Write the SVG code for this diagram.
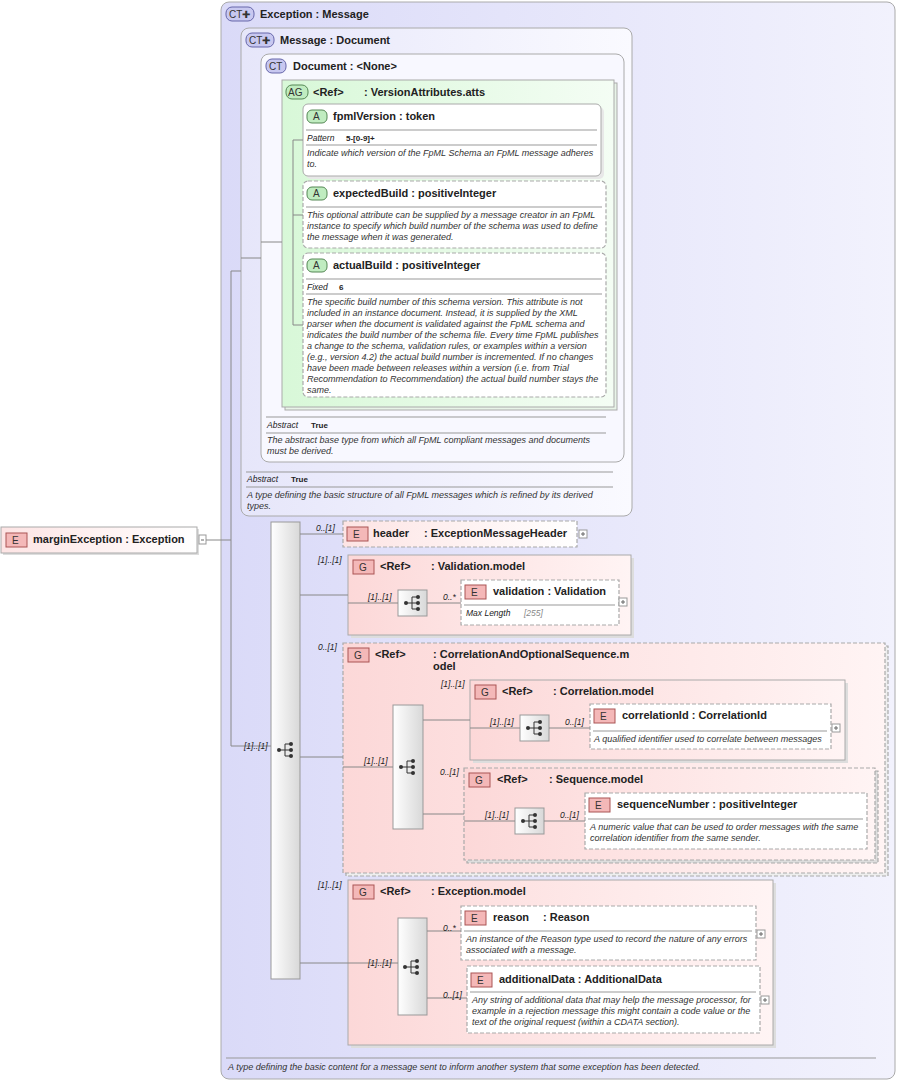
<svg xmlns="http://www.w3.org/2000/svg" width="900" height="1081" viewBox="0 0 900 1081">
<defs>
<linearGradient id="gCT" x1="0" y1="0" x2="1" y2="0"><stop offset="0" stop-color="#dadaf8"/><stop offset="1" stop-color="#f2f2fd"/></linearGradient>
<linearGradient id="gCT2" x1="0" y1="0" x2="1" y2="0"><stop offset="0" stop-color="#e6e6fa"/><stop offset="1" stop-color="#fafaff"/></linearGradient>
<linearGradient id="gAG" x1="0" y1="0" x2="1" y2="0"><stop offset="0" stop-color="#d8f8d8"/><stop offset="1" stop-color="#f4fdf4"/></linearGradient>
<linearGradient id="gG" x1="0" y1="0" x2="1" y2="0"><stop offset="0" stop-color="#fcd8d8"/><stop offset="1" stop-color="#fff4f4"/></linearGradient>
<linearGradient id="gE" x1="0" y1="0" x2="1" y2="0"><stop offset="0" stop-color="#fde4e4"/><stop offset="1" stop-color="#ffffff"/></linearGradient>
<linearGradient id="gBar" x1="0" y1="0" x2="1" y2="0"><stop offset="0" stop-color="#ffffff"/><stop offset="1" stop-color="#d8d8d8"/></linearGradient>
<g id="dots"><line x1="0" y1="0" x2="6" y2="0" stroke="#333"/><circle cx="0" cy="0" r="2" fill="#333"/><path d="M6 -6 V6 M6 -6 H12 M6 0 H12 M6 6 H12" stroke="#333" fill="none"/><circle cx="12" cy="-6" r="2" fill="#333"/><circle cx="12" cy="0" r="2" fill="#333"/><circle cx="12" cy="6" r="2" fill="#333"/></g>
<g id="seqIcon"><rect x="0" y="0" width="29" height="26" fill="url(#gBar)" stroke="#999"/><use href="#dots" x="8" y="13"/></g>
</defs>
<style>
.t{font-family:"Liberation Sans",Arial,sans-serif;font-size:11px;font-weight:bold;fill:#222}
.d{font-family:"Liberation Sans",Arial,sans-serif;font-size:9px;font-style:italic;fill:#333}
.m{font-family:"Liberation Sans",Arial,sans-serif;font-size:8.5px;font-style:italic;fill:#222}
.v{font-family:"Liberation Sans",Arial,sans-serif;font-size:8px;font-weight:bold;fill:#222}
.bt{font-family:"Liberation Sans",Arial,sans-serif;font-size:10px;fill:#333}
.sep{stroke:#999;stroke-width:1}
.c{stroke:#888;fill:none}
.dsh{stroke:#aaa;stroke-width:1.2;stroke-dasharray:4,2}
.badgeE{fill:#f4b8b8;stroke:#a55}
.badgeA{fill:#c0ecc0;stroke:#585}
.badgeC{fill:#c8c8f0;stroke:#66a}
</style>

<g id="exception">
<rect x="221" y="2" width="674" height="1077" rx="8" fill="url(#gCT)" stroke="#aaa"/>
<rect x="226" y="7" width="28" height="14" rx="6" class="badgeC"/><text x="229" y="18" class="bt">CT✚</text>
<text x="260" y="18" class="t">Exception : Message</text>
<line x1="226" y1="1058" x2="876" y2="1058" class="sep"/>
<text x="228" y="1070" class="d">A type defining the basic content for a message sent to inform another system that some exception has been detected.</text>
</g>

<g id="message">
<rect x="241" y="28" width="391" height="488" rx="8" fill="url(#gCT2)" stroke="#aaa"/>
<rect x="246" y="33" width="28" height="14" rx="6" class="badgeC"/><text x="249" y="44" class="bt">CT✚</text>
<text x="280" y="44" class="t">Message : Document</text>
<line x1="246" y1="472" x2="613" y2="472" class="sep"/>
<text x="247" y="482" class="m">Abstract</text><text x="291" y="482" class="v">True</text>
<line x1="246" y1="487" x2="613" y2="487" class="sep"/>
<text x="247" y="498" class="d">A type defining the basic structure of all FpML messages which is refined by its derived</text>
<text x="247" y="509" class="d">types.</text>
</g>

<g id="document">
<rect x="261" y="54" width="363" height="408" rx="8" fill="#f8f8ff" stroke="#aaa"/>
<rect x="266" y="59" width="20" height="14" rx="6" class="badgeC"/><text x="269" y="70" class="bt">CT</text>
<text x="293" y="70" class="t">Document : &lt;None&gt;</text>
<line x1="266" y1="417" x2="606" y2="417" class="sep"/>
<text x="267" y="428" class="m">Abstract</text><text x="311" y="428" class="v">True</text>
<line x1="266" y1="433" x2="606" y2="433" class="sep"/>
<text x="267" y="443" class="d">The abstract base type from which all FpML compliant messages and documents</text>
<text x="267" y="454" class="d">must be derived.</text>
</g>

<g id="versionAtts">
<rect x="285" y="83" width="332" height="327" fill="#e8f4e8" stroke="#aaa"/>
<rect x="282" y="80" width="332" height="327" fill="url(#gAG)" stroke="#aaa"/>
<rect x="286" y="85" width="22" height="14" rx="6" class="badgeA"/><text x="288" y="96" class="bt">AG</text>
<text x="313" y="96" class="t">&lt;Ref&gt;</text><text x="364" y="96" class="t">: VersionAttributes.atts</text>
</g>

<g id="fpmlVersion">
<rect x="306" y="107" width="298" height="72" rx="5" fill="#e8e8e8"/>
<rect x="303" y="104" width="298" height="72" rx="5" fill="#fff" stroke="#aaa"/>
<rect x="307" y="110" width="20" height="13" rx="5" class="badgeA"/><text x="313" y="120" class="bt">A</text>
<text x="333" y="120" class="t">fpmlVersion : token</text>
<line x1="306" y1="130" x2="597" y2="130" class="sep"/>
<text x="307" y="141" class="m">Pattern</text><text x="346" y="141" class="v">5-[0-9]+</text>
<line x1="306" y1="145" x2="597" y2="145" class="sep"/>
<text x="307" y="156" class="d">Indicate which version of the FpML Schema an FpML message adheres</text>
<text x="307" y="167" class="d">to.</text>
</g>

<g id="expectedBuild">
<rect x="303" y="181" width="303" height="67" rx="5" fill="#fff" class="dsh"/>
<rect x="307" y="187" width="20" height="13" rx="5" class="badgeA"/><text x="313" y="197" class="bt">A</text>
<text x="333" y="197" class="t">expectedBuild : positiveInteger</text>
<line x1="306" y1="207" x2="602" y2="207" class="sep"/>
<text x="307" y="218" class="d">This optional attribute can be supplied by a message creator in an FpML</text>
<text x="307" y="229" class="d">instance to specify which build number of the schema was used to define</text>
<text x="307" y="240" class="d">the message when it was generated.</text>
</g>

<g id="actualBuild">
<rect x="303" y="253" width="303" height="144" rx="5" fill="#fff" class="dsh"/>
<rect x="307" y="259" width="20" height="13" rx="5" class="badgeA"/><text x="313" y="269" class="bt">A</text>
<text x="333" y="269" class="t">actualBuild : positiveInteger</text>
<line x1="306" y1="279" x2="602" y2="279" class="sep"/>
<text x="307" y="290" class="m">Fixed</text><text x="339" y="290" class="v">6</text>
<line x1="306" y1="294" x2="602" y2="294" class="sep"/>
<text x="307" y="305" class="d">The specific build number of this schema version. This attribute is not</text>
<text x="307" y="316" class="d">included in an instance document. Instead, it is supplied by the XML</text>
<text x="307" y="327" class="d">parser when the document is validated against the FpML schema and</text>
<text x="307" y="338" class="d">indicates the build number of the schema file. Every time FpML publishes</text>
<text x="307" y="349" class="d">a change to the schema, validation rules, or examples within a version</text>
<text x="307" y="360" class="d">(e.g., version 4.2) the actual build number is incremented. If no changes</text>
<text x="307" y="371" class="d">have been made between releases within a version (i.e. from Trial</text>
<text x="307" y="382" class="d">Recommendation to Recommendation) the actual build number stays the</text>
<text x="307" y="393" class="d">same.</text>
</g>

<g id="marginException">
<rect x="3" y="529" width="196" height="26" fill="#ddd"/>
<rect x="1" y="527" width="196" height="26" fill="url(#gE)" stroke="#aaa"/>
<rect x="6" y="533" width="21" height="14" class="badgeE"/><text x="12" y="544" class="bt">E</text>
<text x="33" y="543" class="t">marginException : Exception</text>
<rect x="199" y="535" width="7" height="9" fill="#fff" stroke="#999"/><line x1="201" y1="540" x2="204" y2="540" stroke="#666"/>
</g>

<g id="seq1"><rect x="271" y="522" width="29" height="457" fill="url(#gBar)" stroke="#999"/><use href="#dots" x="279" y="750"/></g>

<g id="header">
<rect x="343" y="521" width="234" height="26" fill="url(#gE)" class="dsh"/>
<rect x="347" y="527" width="21" height="14" class="badgeE"/><text x="353" y="538" class="bt">E</text>
<text x="373" y="537" class="t">header</text><text x="424" y="537" class="t">: ExceptionMessageHeader</text>
<rect x="579" y="530" width="8" height="8" fill="#fff" stroke="#999"/><path d="M581 534 H585 M583 532 V536" stroke="#666"/>
</g>

<g id="validationModel">
<rect x="351" y="558" width="283" height="80" fill="#ddd"/>
<rect x="348" y="555" width="283" height="80" fill="url(#gG)" stroke="#aaa"/>
<rect x="353" y="560" width="21" height="14" class="badgeE"/><text x="359" y="571" class="bt">G</text>
<text x="380" y="570" class="t">&lt;Ref&gt;</text><text x="431" y="570" class="t">: Validation.model</text>
<use href="#seqIcon" x="398" y="590"/>
</g>

<g id="validation">
<rect x="461" y="580" width="158" height="45" fill="#fff" class="dsh"/>
<rect x="465" y="585" width="21" height="14" class="badgeE"/><text x="471" y="596" class="bt">E</text>
<text x="493" y="595" class="t">validation : Validation</text>
<line x1="464" y1="605" x2="615" y2="605" class="sep"/>
<text x="466" y="616" class="m">Max Length</text><text x="524" y="616" class="m" style="fill:#888">[255]</text>
<rect x="619" y="598" width="8" height="8" fill="#fff" stroke="#999"/><path d="M621 602 H625 M623 600 V604" stroke="#666"/>
</g>

<g id="corrAndSeq">
<rect x="346" y="646" width="542" height="230" fill="#eee" class="dsh"/>
<rect x="343" y="643" width="542" height="230" fill="url(#gG)" class="dsh"/>
<rect x="348" y="648" width="21" height="14" class="badgeE"/><text x="354" y="659" class="bt">G</text>
<text x="375" y="658" class="t">&lt;Ref&gt;</text><text x="433" y="658" class="t">: CorrelationAndOptionalSequence.m</text>
<text x="433" y="670" class="t">odel</text>
<rect x="393" y="705" width="30" height="124" fill="url(#gBar)" stroke="#999"/>
<use href="#dots" x="401" y="767"/>
</g>

<g id="correlationModel">
<rect x="473" y="683" width="375" height="80" fill="#ddd"/>
<rect x="470" y="680" width="375" height="80" fill="url(#gG)" stroke="#aaa"/>
<rect x="475" y="685" width="21" height="14" class="badgeE"/><text x="481" y="696" class="bt">G</text>
<text x="502" y="695" class="t">&lt;Ref&gt;</text><text x="553" y="695" class="t">: Correlation.model</text>
<use href="#seqIcon" x="520" y="715"/>
</g>

<g id="correlationId">
<rect x="590" y="704" width="241" height="45" fill="#fff" class="dsh"/>
<rect x="594" y="709" width="21" height="14" class="badgeE"/><text x="600" y="720" class="bt">E</text>
<text x="622" y="719" class="t">correlationId : CorrelationId</text>
<line x1="593" y1="731" x2="827" y2="731" class="sep"/>
<text x="594" y="742" class="d">A qualified identifier used to correlate between messages</text>
<rect x="832" y="724" width="8" height="8" fill="#fff" stroke="#999"/><path d="M834 728 H838 M836 726 V730" stroke="#666"/>
</g>

<g id="sequenceModel">
<rect x="467" y="771" width="411" height="92" fill="#ddd" class="dsh"/>
<rect x="464" y="768" width="411" height="92" fill="url(#gG)" class="dsh"/>
<rect x="469" y="773" width="21" height="14" class="badgeE"/><text x="475" y="784" class="bt">G</text>
<text x="497" y="783" class="t">&lt;Ref&gt;</text><text x="549" y="783" class="t">: Sequence.model</text>
<use href="#seqIcon" x="515" y="808"/>
</g>

<g id="sequenceNumber">
<rect x="585" y="793" width="282" height="56" fill="#fff" class="dsh"/>
<rect x="589" y="798" width="21" height="14" class="badgeE"/><text x="595" y="809" class="bt">E</text>
<text x="617" y="808" class="t">sequenceNumber : positiveInteger</text>
<line x1="588" y1="819" x2="863" y2="819" class="sep"/>
<text x="590" y="830" class="d">A numeric value that can be used to order messages with the same</text>
<text x="590" y="841" class="d">correlation identifier from the same sender.</text>
</g>

<g id="exceptionModel">
<rect x="351" y="883" width="425" height="165" fill="#ddd"/>
<rect x="348" y="880" width="425" height="165" fill="url(#gG)" stroke="#aaa"/>
<rect x="353" y="885" width="21" height="14" class="badgeE"/><text x="359" y="896" class="bt">G</text>
<text x="380" y="895" class="t">&lt;Ref&gt;</text><text x="431" y="895" class="t">: Exception.model</text>
<rect x="398" y="918" width="29" height="97" fill="url(#gBar)" stroke="#999"/>
<use href="#dots" x="405" y="967"/>
</g>

<g id="reason">
<rect x="461" y="906" width="295" height="54" fill="#fff" class="dsh"/>
<rect x="465" y="911" width="21" height="14" class="badgeE"/><text x="471" y="922" class="bt">E</text>
<text x="493" y="921" class="t">reason</text><text x="543" y="921" class="t">: Reason</text>
<line x1="464" y1="931" x2="752" y2="931" class="sep"/>
<text x="466" y="942" class="d">An instance of the Reason type used to record the nature of any errors</text>
<text x="466" y="953" class="d">associated with a message.</text>
<rect x="757" y="930" width="8" height="8" fill="#fff" stroke="#999"/><path d="M759 934 H763 M761 932 V936" stroke="#666"/>
</g>

<g id="additionalData">
<rect x="467" y="966" width="293" height="67" fill="#fff" class="dsh"/>
<rect x="471" y="973" width="21" height="14" class="badgeE"/><text x="477" y="984" class="bt">E</text>
<text x="499" y="983" class="t">additionalData : AdditionalData</text>
<line x1="470" y1="992" x2="756" y2="992" class="sep"/>
<text x="472" y="1003" class="d">Any string of additional data that may help the message processor, for</text>
<text x="472" y="1014" class="d">example in a rejection message this might contain a code value or the</text>
<text x="472" y="1025" class="d">text of the original request (within a CDATA section).</text>
<rect x="761" y="996" width="8" height="8" fill="#fff" stroke="#999"/><path d="M763 1000 H767 M765 998 V1002" stroke="#666"/>
</g>

<g id="connectors">
<path class="c" d="M206 540 H231 M231 271 V746 M231 271 H241 M231 746 H271 M241 258 H261 M261 242 H282 M293 140 V325 M293 140 H303 M293 215 H303 M293 325 H303"/>
<path class="c" d="M300 534 H343 M300 595 H348 M300 757 H343 M300 963 H348"/>
<path class="c" d="M348 603 H398 M427 603 H461 M343 767 H393 M423 720 H470 M423 814 H464 M470 728 H520 M549 728 H590 M464 821 H515 M544 821 H585 M348 963 H398 M427 931 H461 M427 998 H467"/>
<text x="244" y="749" class="m">[1]..[1]</text>
<text x="316" y="531" class="m">0..[1]</text>
<text x="318" y="563" class="m">[1]..[1]</text>
<text x="368" y="600" class="m">[1]..[1]</text>
<text x="443" y="600" class="m">0..*</text>
<text x="318" y="650" class="m">0..[1]</text>
<text x="364" y="764" class="m">[1]..[1]</text>
<text x="441" y="687" class="m">[1]..[1]</text>
<text x="490" y="725" class="m">[1]..[1]</text>
<text x="565" y="725" class="m">0..[1]</text>
<text x="440" y="775" class="m">0..[1]</text>
<text x="485" y="818" class="m">[1]..[1]</text>
<text x="560" y="818" class="m">0..[1]</text>
<text x="318" y="888" class="m">[1]..[1]</text>
<text x="368" y="966" class="m">[1]..[1]</text>
<text x="443" y="931" class="m">0..*</text>
<text x="443" y="998" class="m">0..[1]</text>
</g>
</svg>
